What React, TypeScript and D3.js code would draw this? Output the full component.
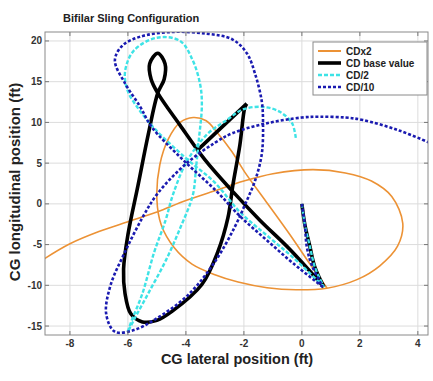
import React from "react";
import * as d3 from "d3";

type Pt = [number, number];

const xTicks = [-8, -6, -4, -2, 0, 2, 4];
const yTicks = [-15, -10, -5, 0, 5, 10, 15, 20];
const seriesNames = ["CDx2", "CD base value", "CD/2", "CD/10"];

// each series is a list of smooth pieces, joined at sharp corners
const cdx2: Pt[][] = [
  [
    [-9.3, -7.8], [-8.86, -6.7], [-8.0, -4.9], [-7.0, -3.4], [-6.0, -2.2], [-5.0, -1.0],
    [-4.0, 0.4], [-3.0, 1.6], [-2.0, 2.8], [-1.0, 3.7], [0.38, 4.2], [1.5, 3.8],
    [2.4, 2.8], [3.1, 0.9], [3.48, -2.4], [3.3, -5.2], [2.69, -7.6], [1.9, -9.3],
    [0.86, -10.35], [-0.2, -10.55], [-1.2, -10.3], [-2.2, -9.6], [-3.0, -8.7],
    [-3.79, -7.4], [-4.4, -5.4], [-4.85, -2.6], [-5.0, 0.5], [-4.9, 4.8], [-4.6, 8.0],
    [-4.2, 10.0], [-3.75, 10.6], [-3.3, 10.2], [-2.93, 8.8], [-2.41, 6.4], [-1.97, 3.9],
    [-1.28, 0.5], [-0.41, -3.8], [0.28, -7.4], [0.86, -10.3],
  ],
];

const cdBase: Pt[][] = [
  [[0, 0], [0.1, -2.5], [0.28, -5.3], [0.45, -7.8], [0.76, -10.2]],
  [
    [0.76, -10.2], [-0.41, -5.6], [-1.45, -2.0], [-2.38, 1.5], [-3.34, 5.4], [-4.21, 9.7],
    [-4.97, 13.6], [-5.2, 15.3], [-5.25, 17.2], [-4.97, 18.5],
    [-4.72, 17.2], [-4.75, 15.3], [-4.97, 13.6], [-5.3, 8.5], [-5.65, 2.3], [-6.0, -3.8],
    [-6.15, -8], [-6.1, -11], [-5.9, -13.5], [-5.5, -14.5], [-5.0, -14.3], [-4.48, -13.2],
    [-3.45, -9.9], [-2.9, -5.9], [-2.55, -1.7], [-2.38, 2.3], [-2.14, 7.2], [-1.97, 11.8],
    [-1.9, 12.3],
  ],
  [[-1.9, 12.3], [-3.6, 6.6]],
];

const cdHalf: Pt[][] = [
  [[0, 0], [0.1, -2.5], [0.28, -5.3], [0.45, -7.8], [0.76, -10.2]],
  [
    [0.76, -10.2], [-0.3, -6.6], [-1.2, -3.9], [-2.14, -1.0], [-3.0, 2.6], [-4.0, 5.6],
    [-5.07, 9.2], [-5.6, 11.5], [-6.0, 13.8], [-6.1, 16.2], [-5.8, 18.8], [-5.0, 20.4],
    [-4.2, 20.0], [-3.75, 17.5], [-3.5, 14.5], [-3.45, 12], [-3.55, 8], [-3.65, 4.5],
    [-3.76, 1.1], [-4.2, -3], [-4.7, -7], [-5.3, -11], [-5.8, -14.3], [-6.0, -15.7],
  ],
  [
    [-6.0, -15.7], [-5.9, -14.6], [-5.5, -11], [-5.1, -6], [-4.7, -2], [-4.45, 1.1],
    [-3.97, 5.2], [-3.28, 8.5], [-2.59, 10.3], [-2.03, 11.6], [-1.34, 11.9], [-0.76, 11.3],
    [-0.34, 9.9], [-0.21, 8.1],
  ],
];

const cdTenth: Pt[][] = [
  [[0, 0], [0.1, -2.5], [0.17, -5.3], [0.34, -7.5], [0.72, -10.2]],
  [
    [0.72, -10.2], [-0.3, -7.3], [-1.2, -4.5], [-2.14, -1.5], [-2.93, 1.5], [-4.1, 5.4],
    [-5.17, 9.4], [-5.59, 12.0], [-6.1, 14.8], [-6.45, 17.6], [-6.2, 19.4], [-5.6, 20.5],
    [-4.5, 21.1], [-3.3, 20.9], [-2.4, 20.2], [-1.9, 18.5], [-1.6, 15.8], [-1.38, 12.5],
    [-1.34, 9.9], [-1.38, 6.2], [-1.6, 3.0], [-1.95, 0], [-2.31, -2.8], [-3.0, -7.1],
    [-3.93, -11.2], [-5.07, -14.2], [-5.8, -15.5], [-6.45, -15.7], [-6.75, -13.5],
    [-6.6, -10], [-6.1, -5.9], [-5.5, -1.7], [-4.97, 1.3], [-3.97, 5.0], [-3.0, 7.5],
    [-2.38, 8.7], [-1.2, 9.9], [0.0, 10.6], [0.62, 10.7], [1.5, 10.6], [2.1, 10.3],
    [3.28, 9.1], [4.4, 7.5], [4.8, 6.8],
  ],
];

const seriesData = [cdx2, cdBase, cdHalf, cdTenth];
const seriesStyle = [
  { color: "#ec9235", width: 1.6, dash: "" },
  { color: "#000000", width: 3.6, dash: "" },
  { color: "#3ee3e6", width: 2.4, dash: "4,2" },
  { color: "#1a1ab0", width: 2.6, dash: "3,2" },
];

const W = 433;
const H = 381;
const plot = { left: 45, right: 428, top: 32, bottom: 335 };

export default function App() {
  const x = d3.scaleLinear().domain([-8.86, 4.35]).range([plot.left, plot.right]);
  const y = d3.scaleLinear().domain([-16.1, 21.1]).range([plot.bottom, plot.top]);
  const line = d3
    .line<Pt>()
    .x((d) => x(d[0]))
    .y((d) => y(d[1]))
    .curve(d3.curveCatmullRom.alpha(0.5));

  const font = "'Liberation Sans', Arial, sans-serif";

  return (
    <svg
      width={W}
      height={H}
      style={{ position: "absolute", left: 0, top: 0, background: "#fff" }}
      fontFamily={font}
    >
      <defs>
        <clipPath id="plotClip">
          <rect x={plot.left} y={plot.top} width={plot.right - plot.left} height={plot.bottom - plot.top} />
        </clipPath>
      </defs>
      <rect x={plot.left} y={plot.top} width={plot.right - plot.left} height={plot.bottom - plot.top} fill="#fff" />
      {/* grid */}
      {xTicks.map((t) => (
        <line key={"gx" + t} x1={x(t)} x2={x(t)} y1={plot.top} y2={plot.bottom} stroke="#dcdcdc" strokeWidth={1} />
      ))}
      {yTicks.map((t) => (
        <line key={"gy" + t} x1={plot.left} x2={plot.right} y1={y(t)} y2={y(t)} stroke="#dcdcdc" strokeWidth={1} />
      ))}
      {/* series */}
      <g clipPath="url(#plotClip)">
        {seriesData.map((segs, i) => (
          <path
            key={seriesNames[i]}
            d={segs.map((s) => line(s)).join("")}
            fill="none"
            stroke={seriesStyle[i].color}
            strokeWidth={seriesStyle[i].width}
            strokeDasharray={seriesStyle[i].dash || undefined}
            strokeLinejoin="round"
          />
        ))}
      </g>
      {/* frame and ticks */}
      <rect x={plot.left} y={plot.top} width={plot.right - plot.left} height={plot.bottom - plot.top} fill="none" stroke="#8a8a8a" strokeWidth={1} />
      {xTicks.map((t) => (
        <g key={"tx" + t}>
          <line x1={x(t)} x2={x(t)} y1={plot.bottom} y2={plot.bottom - 4} stroke="#777" />
          <line x1={x(t)} x2={x(t)} y1={plot.top} y2={plot.top + 4} stroke="#777" />
          <text x={x(t)} y={347} textAnchor="middle" fontSize={10} fontWeight="bold" fill="#333">
            {t}
          </text>
        </g>
      ))}
      {yTicks.map((t) => (
        <g key={"ty" + t}>
          <line x1={plot.left} x2={plot.left + 4} y1={y(t)} y2={y(t)} stroke="#777" />
          <line x1={plot.right} x2={plot.right - 4} y1={y(t)} y2={y(t)} stroke="#777" />
          <text x={plot.left - 3} y={y(t) + 3.5} textAnchor="end" fontSize={10} fontWeight="bold" fill="#333">
            {t}
          </text>
        </g>
      ))}
      {/* title and axis labels */}
      <text x={63} y={22} fontSize={11} fontWeight="bold" fill="#222">
        Bifilar Sling Configuration
      </text>
      <text x={237} y={364} textAnchor="middle" fontSize={14.5} fontWeight="bold" fill="#222">
        CG lateral position (ft)
      </text>
      <text
        transform={`translate(20,${182}) rotate(-90)`}
        textAnchor="middle"
        fontSize={15}
        fontWeight="bold"
        fill="#222"
      >
        CG longitudinal position (ft)
      </text>
      {/* legend */}
      <g>
        <rect x={313} y={42} width={114} height={53} fill="#fff" stroke="#8a8a8a" strokeWidth={1} />
        {seriesNames.map((name, i) => {
          const cy = 51 + i * 12;
          return (
            <g key={"lg" + name}>
              <line
                x1={318}
                x2={341}
                y1={cy}
                y2={cy}
                stroke={seriesStyle[i].color}
                strokeWidth={i === 0 ? 2 : seriesStyle[i].width}
                strokeDasharray={seriesStyle[i].dash || undefined}
              />
              <text x={346} y={cy + 3.5} fontSize={10} fontWeight="bold" fill="#222">
                {name}
              </text>
            </g>
          );
        })}
      </g>
    </svg>
  );
}
